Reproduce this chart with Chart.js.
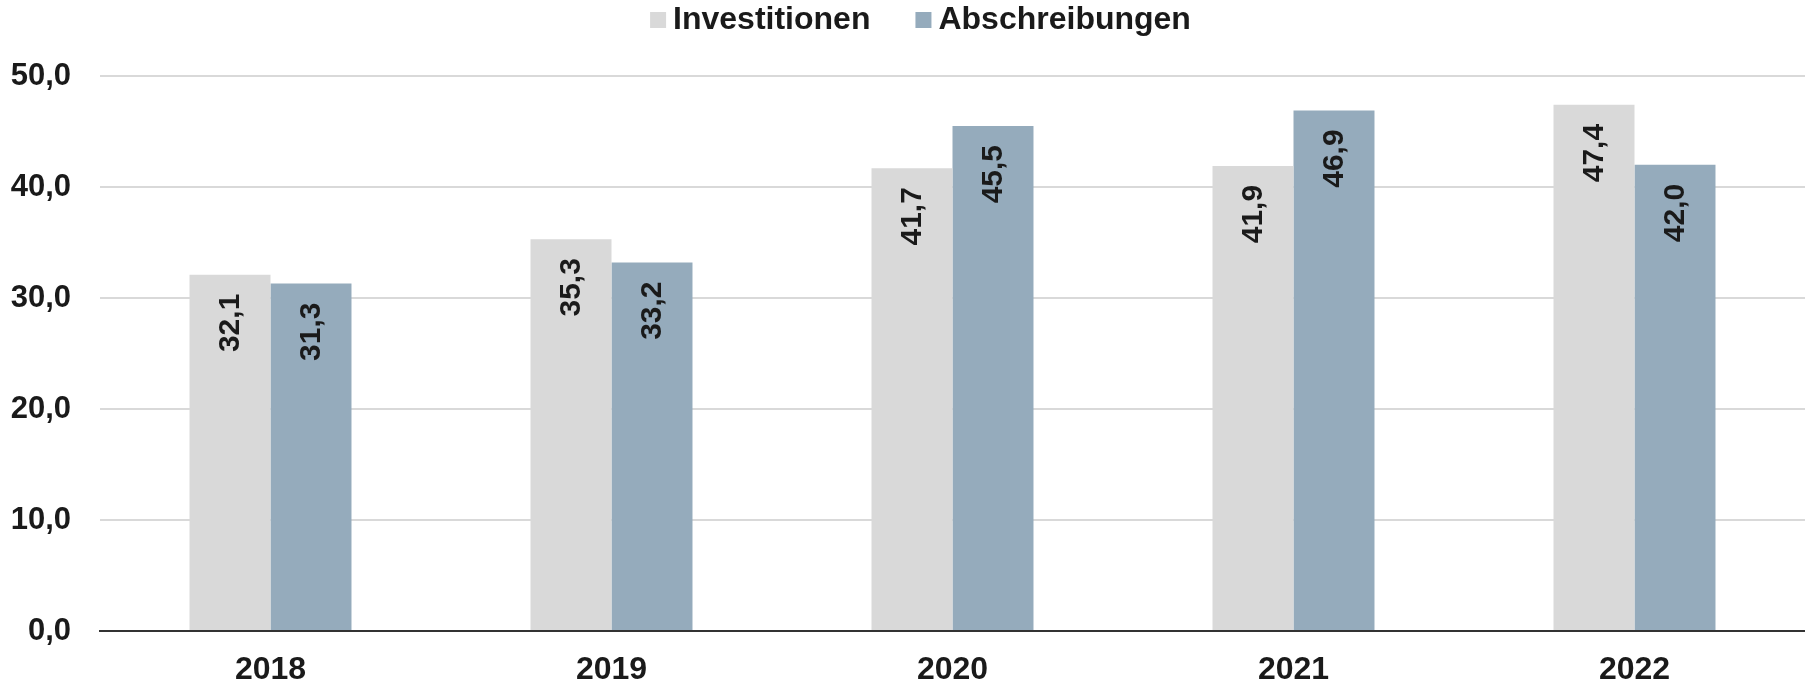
<!DOCTYPE html>
<html lang="de">
<head>
<meta charset="utf-8">
<title>Investitionen und Abschreibungen</title>
<script src="https://cdn.jsdelivr.net/npm/chart.js@4.4.1/dist/chart.umd.min.js"></script>
<style>
  html, body { margin: 0; padding: 0; background: #fff; }
  #wrap { position: relative; width: 1805px; height: 684px; }
</style>
</head>
<body>
<div id="wrap"><canvas id="invChart"></canvas></div>
<script>
// Werte in Mio. EUR
const jahre = ["2018", "2019", "2020", "2021", "2022"];
const investitionen = [32.1, 35.3, 41.7, 41.9, 47.4];
const abschreibungen = [31.3, 33.2, 45.5, 46.9, 42.0];
const yMin = 0, yMax = 50, yStep = 10;

const FONT = "'Liberation Sans', Arial, sans-serif";
const TEXT = '#1a1a1a';

// Zahl im deutschen Format mit einer Nachkommastelle
const fmt = v => Number(v).toFixed(1).replace('.', ',');

// Legende oben, horizontal zentriert
const topLegend = {
  id: 'topLegend',
  afterDraw(chart) {
    const ctx = chart.ctx;
    const box = 16, gapText = 7, gapItem = 45, cy = 19;
    ctx.save();
    ctx.font = `bold 32px ${FONT}`;
    ctx.textBaseline = 'middle';
    const items = chart.data.datasets.map(ds => ({
      label: ds.label, color: ds.backgroundColor, w: ctx.measureText(ds.label).width
    }));
    const total = items.reduce((s, it) => s + box + gapText + it.w, 0) + gapItem * (items.length - 1);
    let x = chart.width / 2 + 18 - total / 2;
    items.forEach(it => {
      ctx.fillStyle = it.color;
      ctx.fillRect(x, cy - box / 2 + 1, box, box);
      ctx.fillStyle = TEXT;
      ctx.textAlign = 'left';
      ctx.fillText(it.label, x + box + gapText, cy + 1);
      x += box + gapText + it.w + gapItem;
    });
    ctx.restore();
  }
};

// Senkrechte Werte oben in den Balken
const barValues = {
  id: 'barValues',
  afterDatasetsDraw(chart) {
    const ctx = chart.ctx;
    ctx.save();
    ctx.font = `bold 30px ${FONT}`;
    ctx.fillStyle = TEXT;
    ctx.textAlign = 'right';
    ctx.textBaseline = 'middle';
    chart.data.datasets.forEach((ds, i) => {
      chart.getDatasetMeta(i).data.forEach((bar, j) => {
        ctx.save();
        ctx.translate(bar.x, bar.y + 19);
        ctx.rotate(-Math.PI / 2);
        ctx.fillText(fmt(ds.data[j]), 0, 1);
        ctx.restore();
      });
    });
    ctx.restore();
  }
};

new Chart(document.getElementById('invChart'), {
  type: 'bar',
  data: {
    labels: jahre,
    datasets: [
      { label: 'Investitionen', data: investitionen, backgroundColor: '#d9d9d9' },
      { label: 'Abschreibungen', data: abschreibungen, backgroundColor: '#95abbc' }
    ]
  },
  options: {
    responsive: true,
    maintainAspectRatio: false,
    animation: false,
    layout: { padding: { top: 76, left: 0, right: 0, bottom: 0 } },
    datasets: { bar: { categoryPercentage: 0.475, barPercentage: 1.0 } },
    plugins: {
      legend: { display: false },
      tooltip: { enabled: false }
    },
    scales: {
      x: {
        afterFit: axis => { axis.height = 53; },
        grid: { display: false, drawTicks: false },
        border: { display: true, color: '#333', width: 2 },
        ticks: { color: TEXT, font: { family: FONT, size: 32, weight: 'bold' }, padding: 20 }
      },
      y: {
        min: yMin,
        max: yMax,
        afterFit: axis => { axis.width = 100; },
        grid: { color: '#d9d9d9', lineWidth: 2, drawTicks: false },
        border: { display: false },
        ticks: {
          stepSize: yStep,
          padding: 29,
          color: TEXT,
          font: { family: FONT, size: 31, weight: 'bold' },
          callback: v => fmt(v)
        }
      }
    }
  },
  plugins: [topLegend, barValues]
});
</script>
</body>
</html>
